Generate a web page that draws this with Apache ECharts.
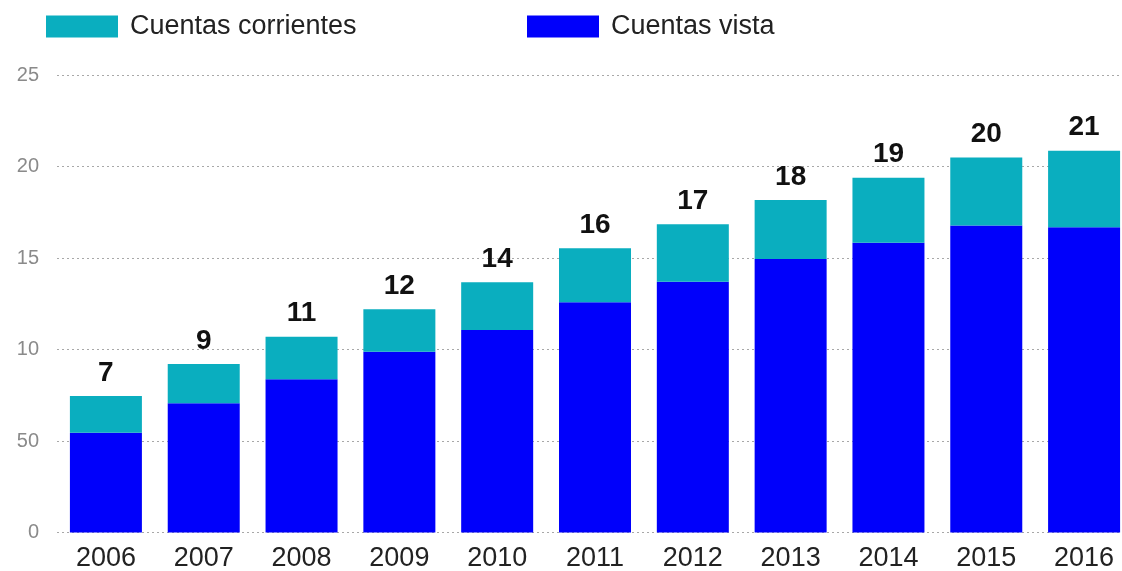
<!DOCTYPE html>
<html>
<head>
<meta charset="utf-8">
<script src="https://cdn.jsdelivr.net/npm/echarts@6/dist/echarts.min.js"></script>
<style>
  html, body { margin: 0; padding: 0; background: #ffffff; }
  #chart { width: 1122px; height: 571px; }
</style>
</head>
<body>
<div id="chart"></div>
<script>
// Years shown on the category axis
const years = ['2006', '2007', '2008', '2009', '2010', '2011', '2012', '2013', '2014', '2015', '2016'];
// Cuentas vista (lower segment of each stack)
const cuentasVista = [5.45, 7.06, 8.37, 9.88, 11.07, 12.58, 13.70, 14.95, 15.84, 16.77, 16.68];
// Cuentas corrientes (upper segment of each stack)
const cuentasCorrientes = [2.01, 2.15, 2.33, 2.32, 2.60, 2.95, 3.14, 3.22, 3.55, 3.72, 4.18];
// Value-axis tick labels, as printed on the axis
const yTickLabels = ['0', '50', '10', '15', '20', '25'];

const FONT = '"Liberation Sans", Arial, Helvetica, sans-serif';
const TEAL = '#0aaebf';
const BLUE = '#0000fb';

const chart = echarts.init(document.getElementById('chart'), null, { renderer: 'canvas' });

const legendText = { color: '#222222', fontSize: 27, fontFamily: FONT, padding: [0, 0, 0, 7] };

chart.setOption({
  animation: false,
  backgroundColor: '#ffffff',
  textStyle: { fontFamily: FONT },
  legend: [
    {
      data: ['Cuentas corrientes'],
      left: 46, top: 13, padding: 0,
      icon: 'rect', itemWidth: 72, itemHeight: 22,
      textStyle: legendText,
      selectedMode: false
    },
    {
      data: ['Cuentas vista'],
      left: 527, top: 13, padding: 0,
      icon: 'rect', itemWidth: 72, itemHeight: 22,
      textStyle: legendText,
      selectedMode: false
    }
  ],
  // the plot runs a little past the right edge of the page, so the last bar is flush with it
  grid: {
    left: 57, width: 1076, top: 75, bottom: 38.5,
    containLabel: false, outerBoundsMode: 'none'
  },
  xAxis: {
    type: 'category',
    data: years,
    axisLine: { show: false },
    axisTick: { show: false },
    axisLabel: { color: '#222222', fontSize: 27, fontFamily: FONT, margin: 13 }
  },
  yAxis: {
    type: 'value',
    min: 0, max: 25, interval: 5,
    axisLine: { show: false },
    axisTick: { show: false },
    axisLabel: {
      color: '#8a8a8a', fontSize: 20, fontFamily: FONT, margin: 18,
      formatter: (v) => yTickLabels[Math.round(v / 5)]
    },
    splitLine: { show: true, lineStyle: { color: '#a8a8a8', width: 1, type: [2, 3] } }
  },
  series: [
    {
      name: 'Cuentas vista',
      type: 'bar',
      stack: 'total',
      barWidth: 72,
      itemStyle: { color: BLUE },
      data: cuentasVista
    },
    {
      name: 'Cuentas corrientes',
      type: 'bar',
      stack: 'total',
      barWidth: 72,
      itemStyle: { color: TEAL },
      data: cuentasCorrientes,
      label: {
        show: true,
        position: 'top',
        distance: 9,
        color: '#111111',
        fontSize: 28,
        fontWeight: 'bold',
        fontFamily: FONT,
        formatter: (p) => String(Math.round(cuentasVista[p.dataIndex] + cuentasCorrientes[p.dataIndex]))
      }
    }
  ]
});
</script>
</body>
</html>
